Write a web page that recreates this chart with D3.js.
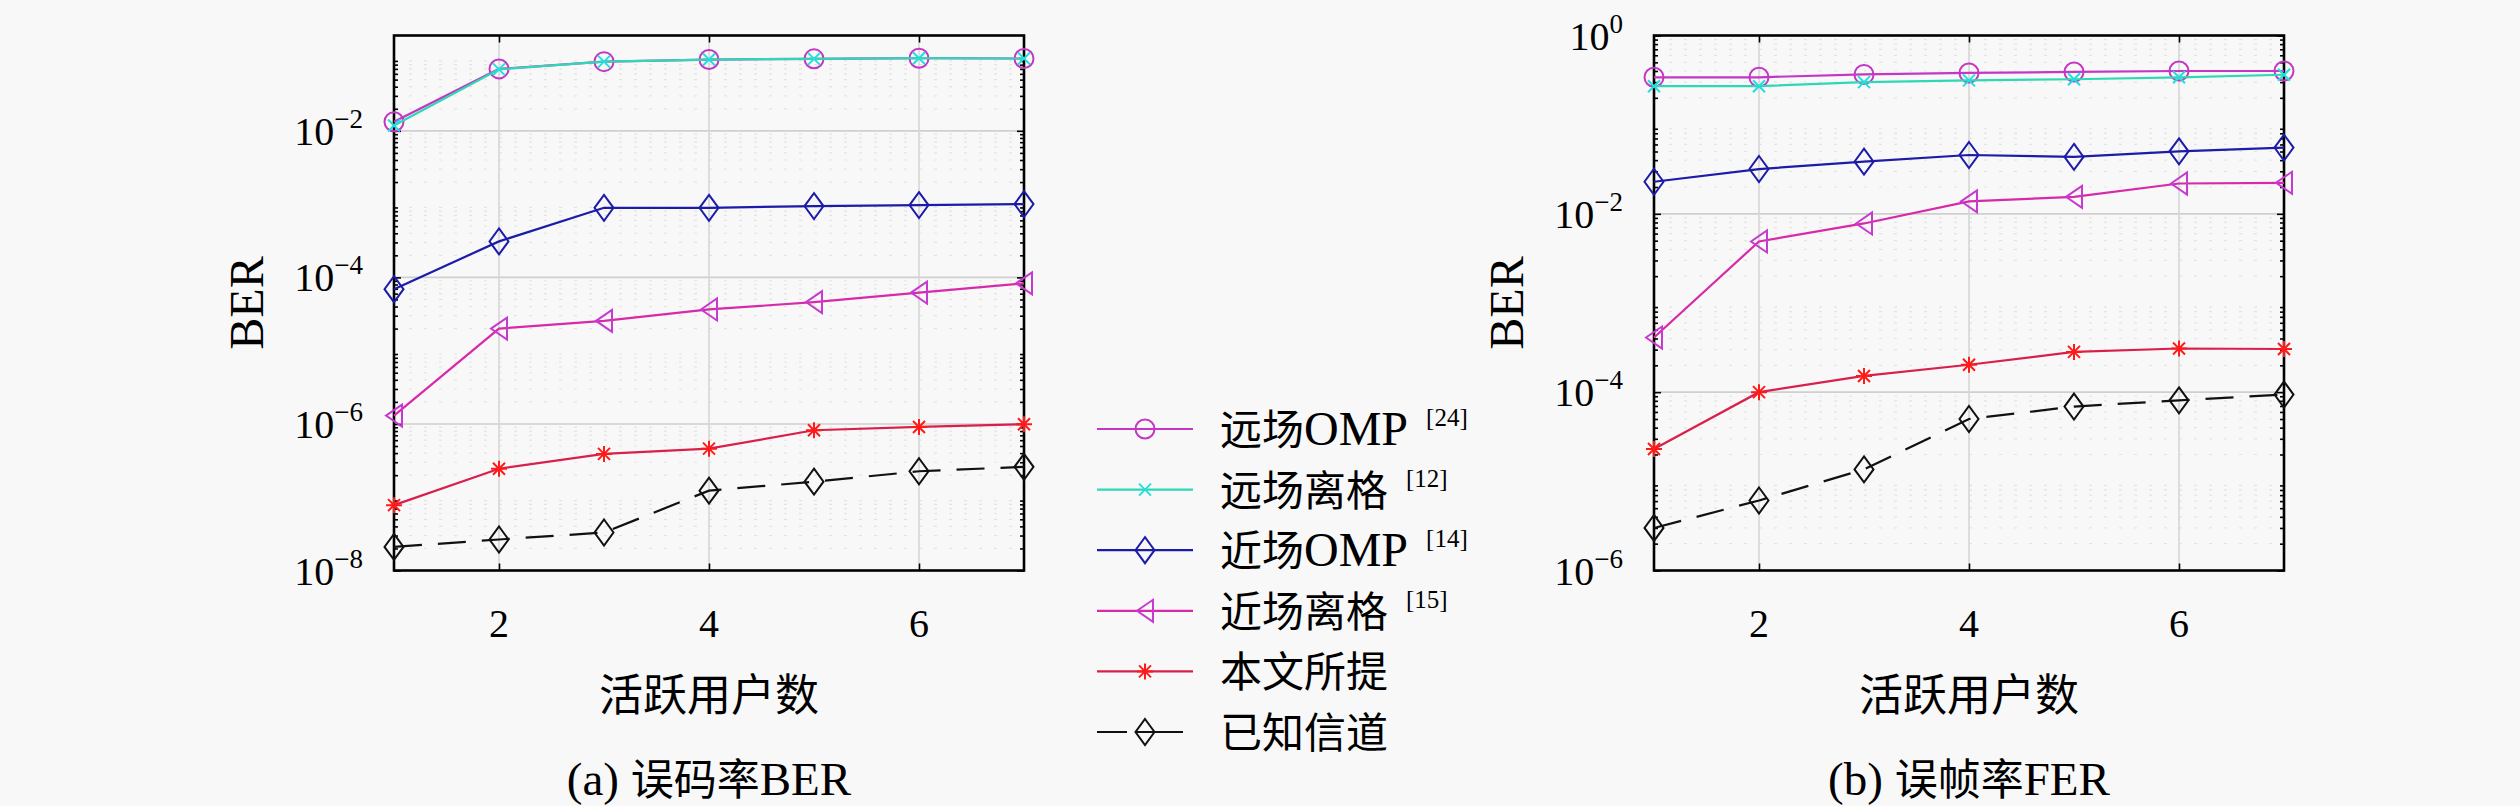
<!DOCTYPE html>
<html>
<head>
<meta charset="utf-8">
<script src="https://cdn.jsdelivr.net/npm/d3@7"></script>
<style>
  body { margin: 0; background: #f8f8f8; }
  svg { display: block; }
</style>
</head>
<body>
<div id="chart"></div>
<script>
////////////////////////////// data //////////////////////////////

const activeUsers = [1, 2, 3, 4, 5, 6, 7];
const xTicks = [2, 4, 6];

const seriesNames = ["远场OMP", "远场离格", "近场OMP", "近场离格", "本文所提", "已知信道"];
const seriesRefs = ["[24]", "[12]", "[14]", "[15]", "", ""];

// (a) BER
const berFarOMP = [0.0133, 0.070, 0.088, 0.094, 0.096, 0.098, 0.097];
const berFarOffGrid = [0.0118, 0.069, 0.088, 0.094, 0.096, 0.098, 0.097];
const berNearOMP = [6.9e-5, 3.1e-4, 8.9e-4, 8.9e-4, 9.4e-4, 9.7e-4, 1.0e-3];
const berNearOffGrid = [1.3e-6, 2.0e-5, 2.55e-5, 3.65e-5, 4.6e-5, 6.2e-5, 8.3e-5];
const berProposed = [7.8e-8, 2.45e-7, 3.9e-7, 4.6e-7, 8.2e-7, 9.1e-7, 9.9e-7];
const berKnown = [2.1e-8, 2.65e-8, 3.3e-8, 1.23e-7, 1.63e-7, 2.26e-7, 2.6e-7];

// (b) FER
const ferFarOMP = [0.34, 0.34, 0.366, 0.38, 0.39, 0.40, 0.40];
const ferFarOffGrid = [0.27, 0.27, 0.30, 0.314, 0.323, 0.34, 0.363];
const ferNearOMP = [0.0229, 0.0318, 0.0385, 0.0457, 0.0435, 0.0502, 0.0553];
const ferNearOffGrid = [4.1e-4, 4.9e-3, 7.8e-3, 0.0138, 0.0155, 0.0219, 0.0223];
const ferProposed = [2.3e-5, 1.0e-4, 1.52e-4, 2.03e-4, 2.83e-4, 3.09e-4, 3.05e-4];
const ferKnown = [3.0e-6, 6.1e-6, 1.36e-5, 5.0e-5, 6.9e-5, 8.1e-5, 9.4e-5];

const berYTicks = [1e-8, 1e-6, 1e-4, 1e-2];
const ferYTicks = [1e-6, 1e-4, 1e-2, 1];

////////////////////////////// style //////////////////////////////

const width = 2520;
const height = 806;
const serif = "'Liberation Serif', 'Times New Roman', serif";
const cjk = "'Noto Sans CJK SC', sans-serif";

const lineColors = ["#c437c4", "#2ed8b4", "#1c1ca8", "#d62aa8", "#d8204a", "#111111"];
const markerColors = ["#c437c4", "#22dede", "#1c1ca8", "#c63ad0", "#ff1a1a", "#111111"];
const markerTypes = ["circle", "xmark", "diamond", "triLeft", "star", "diamond"];
const dashes = [null, null, null, null, null, "28,16"];
const legendDashes = [null, null, null, null, null, "30,8,48,100"];

function markerPath(type) {
	if (type === "circle") return "M9.5,0A9.5,9.5 0 1 1 -9.5,0A9.5,9.5 0 1 1 9.5,0Z";
	if (type === "diamond") return "M0,-13L9.5,0L0,13L-9.5,0Z";
	if (type === "triLeft") return "M-8,0L8,-11L8,11Z";
	if (type === "xmark") return "M-6,-6L6,6M-6,6L6,-6";
	if (type === "star") return "M0,-8L0,8M-8,0L8,0M-6,-6L6,6M-6,6L6,-6";
}

// split a string into CJK / latin runs so each gets its own font
function richText(sel, str, cjkSize, latinSize) {
	const runs = str.match(/[\u4e00-\u9fff]+|[^\u4e00-\u9fff]+/g);
	runs.forEach((r) => {
		const isCjk = /[\u4e00-\u9fff]/.test(r);
		sel.append("tspan")
			.attr("font-family", isCjk ? cjk : serif)
			.attr("font-size", isCjk ? cjkSize : latinSize)
			.text(r);
	});
}

const svg = d3.select("#chart")
	.append("svg")
	.attr("width", width)
	.attr("height", height);

svg.append("rect").attr("width", width).attr("height", height).attr("fill", "#f8f8f8");

////////////////////////////// panels //////////////////////////////

const panels = [
	{
		left: 394, right: 1024, domain: [1e-8, 0.2], ticks: berYTicks,
		caption: "(a) 误码率BER",
		series: [berFarOMP, berFarOffGrid, berNearOMP, berNearOffGrid, berProposed, berKnown]
	},
	{
		left: 1654, right: 2284, domain: [1e-6, 1], ticks: ferYTicks,
		caption: "(b) 误帧率FER",
		series: [ferFarOMP, ferFarOffGrid, ferNearOMP, ferNearOffGrid, ferProposed, ferKnown]
	}
];

const plotTop = 35.5;
const plotBottom = 570.5;

panels.forEach((p) => {
	const g = svg.append("g");
	const x = d3.scaleLinear().domain([1, 7]).range([p.left, p.right]);
	const y = d3.scaleLog().domain(p.domain).range([plotBottom, plotTop]);

	// minor values inside the domain
	const lo = Math.floor(Math.log10(p.domain[0]));
	const hi = Math.ceil(Math.log10(p.domain[1]));
	const minors = [];
	for (let k = lo; k < hi; k++) {
		for (let m = 2; m <= 9; m++) {
			const v = m * Math.pow(10, k);
			if (v > p.domain[0] && v < p.domain[1]) minors.push(v);
		}
	}

	// grid
	g.selectAll(".minor-grid")
		.data(minors)
		.enter()
		.append("line")
		.attr("x1", p.left).attr("x2", p.right)
		.attr("y1", (d) => y(d)).attr("y2", (d) => y(d))
		.attr("stroke", "#e3e3e3")
		.attr("stroke-width", 1.2)
		.attr("stroke-dasharray", "3,12");
	g.selectAll(".major-grid")
		.data(p.ticks.filter((d) => d > p.domain[0] && d < p.domain[1]))
		.enter()
		.append("line")
		.attr("x1", p.left).attr("x2", p.right)
		.attr("y1", (d) => y(d)).attr("y2", (d) => y(d))
		.attr("stroke", "#cfcfcf")
		.attr("stroke-width", 1.6);
	g.selectAll(".x-grid")
		.data(xTicks)
		.enter()
		.append("line")
		.attr("x1", (d) => x(d)).attr("x2", (d) => x(d))
		.attr("y1", plotTop).attr("y2", plotBottom)
		.attr("stroke", "#d6d6d6")
		.attr("stroke-width", 1.6);

	// axes (bottom / left carry labels, top / right mirror the ticks)
	const xAxisB = d3.axisBottom(x).tickValues(xTicks).tickSize(-7).tickFormat(() => "");
	const xAxisT = d3.axisTop(x).tickValues(xTicks).tickSize(-7).tickFormat(() => "");
	const yAxisL = d3.axisLeft(y).tickValues(p.ticks).tickSize(-7).tickFormat(() => "");
	const yAxisR = d3.axisRight(y).tickValues(p.ticks).tickSize(-7).tickFormat(() => "");
	const yMinorL = d3.axisLeft(y).tickValues(minors).tickSize(-4).tickFormat(() => "");
	const yMinorR = d3.axisRight(y).tickValues(minors).tickSize(-4).tickFormat(() => "");

	[
		[xAxisB, `translate(0,${plotBottom})`],
		[xAxisT, `translate(0,${plotTop})`],
		[yAxisL, `translate(${p.left},0)`],
		[yAxisR, `translate(${p.right},0)`],
		[yMinorL, `translate(${p.left},0)`],
		[yMinorR, `translate(${p.right},0)`]
	].forEach(([ax, tr]) => {
		const a = g.append("g").attr("transform", tr).call(ax);
		a.select(".domain").remove();
		a.selectAll("line").attr("stroke", "#000").attr("stroke-width", 1.6);
	});

	g.append("rect")
		.attr("x", p.left).attr("y", plotTop)
		.attr("width", p.right - p.left).attr("height", plotBottom - plotTop)
		.attr("fill", "none")
		.attr("stroke", "#000")
		.attr("stroke-width", 2.6);

	// tick labels
	g.selectAll(".xlab")
		.data(xTicks)
		.enter()
		.append("text")
		.attr("x", (d) => x(d))
		.attr("y", 637)
		.attr("text-anchor", "middle")
		.attr("font-family", serif)
		.attr("font-size", 40)
		.text((d) => d);

	const ylab = g.selectAll(".ylab")
		.data(p.ticks)
		.enter()
		.append("text")
		.attr("x", p.left - 31)
		.attr("y", (d) => y(d) + 14)
		.attr("text-anchor", "end")
		.attr("font-family", serif)
		.attr("font-size", 40);
	ylab.append("tspan").text("10");
	ylab.append("tspan")
		.attr("dy", -17)
		.attr("font-size", 27)
		.text((d) => {
			const e = Math.round(Math.log10(d));
			return e < 0 ? "\u2212" + Math.abs(e) : String(e);
		});

	// axis titles
	g.append("text")
		.attr("transform", `translate(${p.left - 131},${(plotTop + plotBottom) / 2}) rotate(-90)`)
		.attr("text-anchor", "middle")
		.attr("font-family", serif)
		.attr("font-size", 48)
		.text("BER");

	g.append("text")
		.attr("x", (p.left + p.right) / 2)
		.attr("y", 711)
		.attr("text-anchor", "middle")
		.attr("font-family", cjk)
		.attr("font-size", 44)
		.text("活跃用户数");

	const cap = g.append("text")
		.attr("x", (p.left + p.right) / 2)
		.attr("y", 795)
		.attr("text-anchor", "middle");
	richText(cap, p.caption, 43, 47);

	// series
	const line = d3.line()
		.x((d, i) => x(activeUsers[i]))
		.y((d) => y(d));

	p.series.forEach((vals, s) => {
		g.append("path")
			.datum(vals)
			.attr("d", line)
			.attr("fill", "none")
			.attr("stroke", lineColors[s])
			.attr("stroke-width", 2.2)
			.attr("stroke-dasharray", dashes[s]);
		g.selectAll(".m" + s)
			.data(vals)
			.enter()
			.append("path")
			.attr("transform", (d, i) => `translate(${x(activeUsers[i])},${y(d)})`)
			.attr("d", markerPath(markerTypes[s]))
			.attr("fill", "none")
			.attr("stroke", markerColors[s])
			.attr("stroke-width", 2);
	});
});

////////////////////////////// legend //////////////////////////////

const legendY = d3.scalePoint()
	.domain(seriesNames)
	.range([429, 732]);

const legend = svg.append("g");
seriesNames.forEach((name, s) => {
	const ly = legendY(name);
	legend.append("line")
		.attr("x1", 1097).attr("x2", 1193)
		.attr("y1", ly).attr("y2", ly)
		.attr("stroke", lineColors[s])
		.attr("stroke-width", 2.2)
		.attr("stroke-dasharray", legendDashes[s]);
	legend.append("path")
		.attr("transform", `translate(1145,${ly})`)
		.attr("d", markerPath(markerTypes[s]))
		.attr("fill", "none")
		.attr("stroke", markerColors[s])
		.attr("stroke-width", 2);
	const t = legend.append("text")
		.attr("x", 1220)
		.attr("y", ly + 16);
	richText(t, name, 42, 48);
	if (seriesRefs[s]) {
		t.append("tspan")
			.attr("dx", 18)
			.attr("dy", -19)
			.attr("font-family", serif)
			.attr("font-size", 25)
			.text(seriesRefs[s]);
	}
});
</script>
</body>
</html>
